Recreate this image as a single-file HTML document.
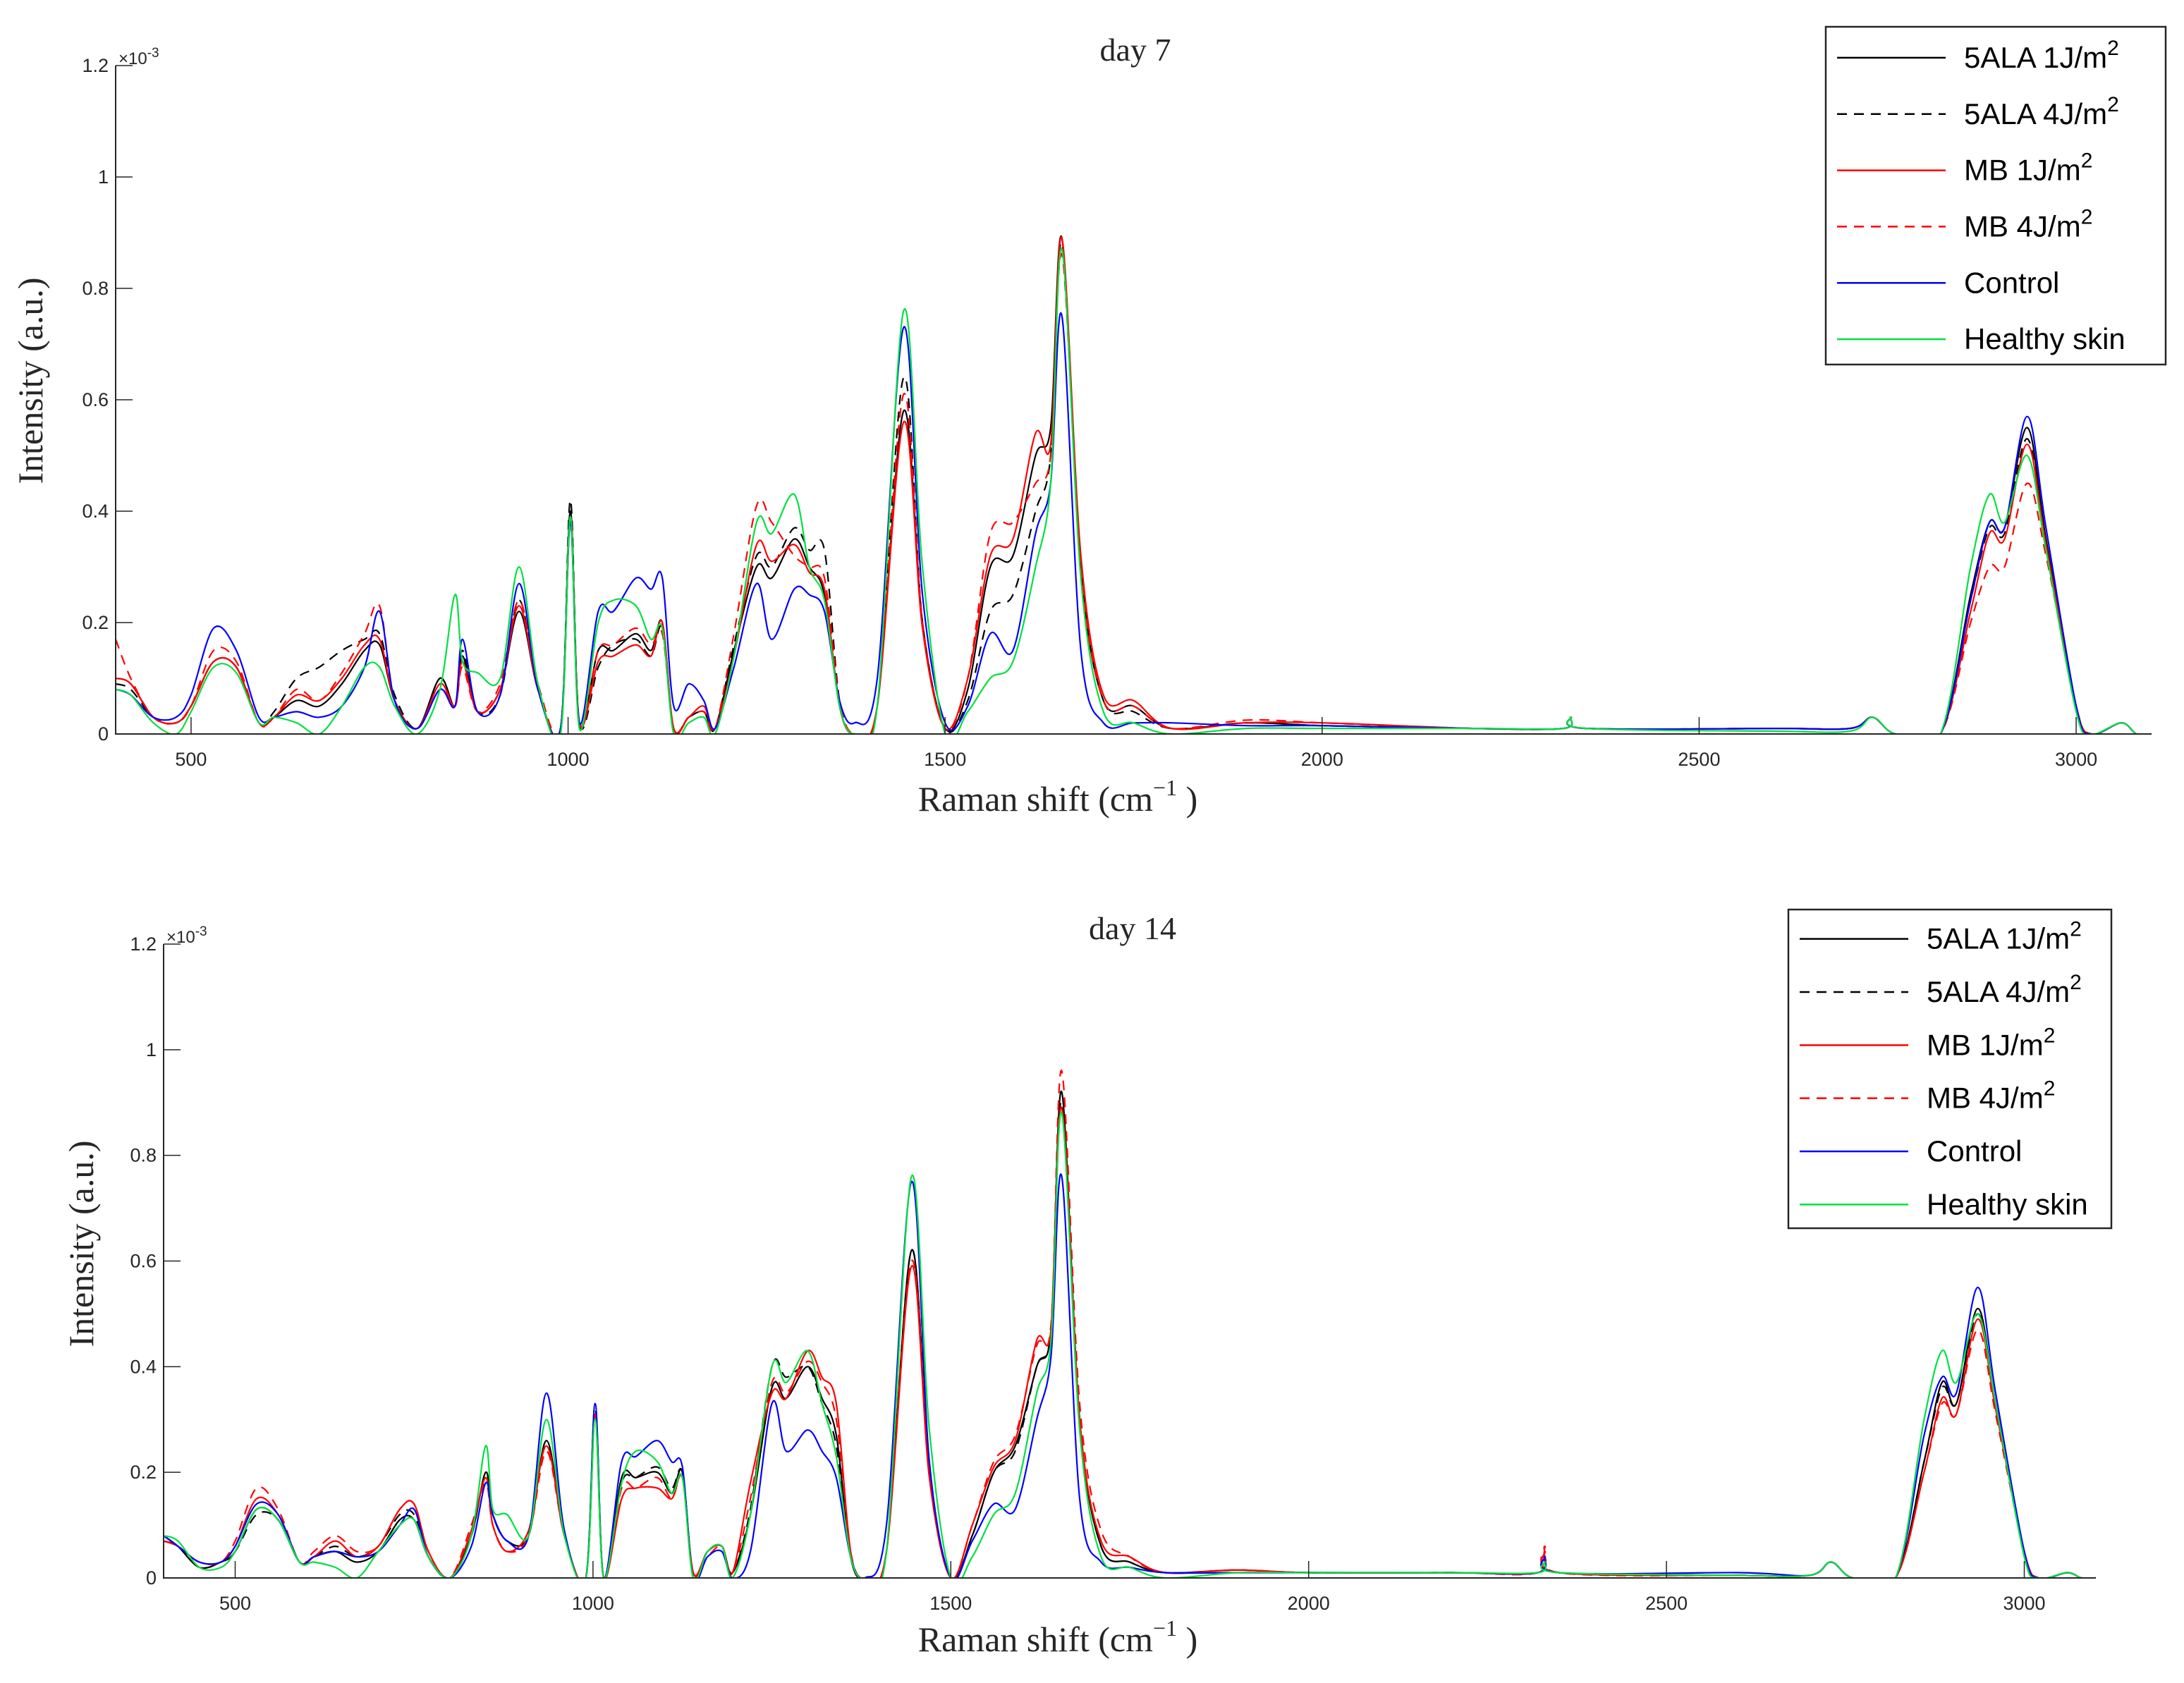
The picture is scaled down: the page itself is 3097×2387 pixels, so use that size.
<!DOCTYPE html>
<html><head><meta charset="utf-8"><style>
html,body{margin:0;padding:0;background:#fff;}
svg{display:block;}
</style></head><body>
<svg id="chart" width="3097" height="2387" viewBox="0 0 3097 2387" xmlns="http://www.w3.org/2000/svg"></svg>
<script>
const wavenumbers=[400,420,450,480,500,530,560,590,610,640,670,700,730,750,770,800,830,850,860,880,910,935,960,990,1003,1015,1040,1060,1090,1110,1125,1140,1160,1180,1195,1220,1250,1270,1300,1320,1340,1360,1380,1410,1445,1470,1500,1530,1560,1590,1620,1640,1655,1680,1710,1750,1800,1900,2000,2200,2320,2330,2350,2600,2700,2730,2760,2820,2860,2885,2905,2935,2960,3000,3020,3060,3080,3100];
const xTicks=[500,1000,1500,2000,2500,3000];
const yTicks=[0,0.2,0.4,0.6,0.8,1,1.2];
const yTickLabels=["0","0.2","0.4","0.6","0.8","1","1.2"];
const seriesNames=["5ALA 1J/m","5ALA 4J/m","MB 1J/m","MB 4J/m","Control","Healthy skin"];
const d7_5ala1=[0.10,0.09,0.03,0.02,0.05,0.13,0.12,0.02,0.03,0.06,0.05,0.09,0.15,0.16,0.06,0.01,0.10,0.05,0.14,0.04,0.08,0.22,0.08,0.01,0.40,0.02,0.15,0.15,0.18,0.15,0.20,0.01,0.03,0.04,0.01,0.15,0.30,0.28,0.35,0.30,0.25,0.05,0.00,0.05,0.58,0.20,0.01,0.08,0.30,0.32,0.50,0.55,0.89,0.30,0.06,0.05,0.01,0.02,0.015,0.01,0.01,0.03,0.01,0.01,0.01,0.03,0.00,0.00,0.25,0.38,0.37,0.55,0.35,0.05,0.00,0.02,0.00,0.00];
const d7_5ala4=[0.09,0.08,0.03,0.02,0.05,0.13,0.12,0.02,0.04,0.10,0.12,0.15,0.17,0.18,0.07,0.01,0.10,0.05,0.15,0.04,0.07,0.24,0.08,0.01,0.42,0.02,0.12,0.16,0.17,0.14,0.19,0.01,0.03,0.04,0.01,0.16,0.32,0.30,0.37,0.33,0.33,0.06,0.00,0.05,0.64,0.20,0.01,0.06,0.22,0.25,0.40,0.50,0.88,0.30,0.06,0.04,0.01,0.02,0.015,0.01,0.01,0.03,0.01,0.01,0.01,0.03,0.00,0.00,0.24,0.37,0.36,0.53,0.34,0.05,0.00,0.02,0.00,0.00];
const d7_mb1=[0.10,0.09,0.03,0.02,0.05,0.13,0.12,0.02,0.03,0.07,0.06,0.10,0.16,0.17,0.06,0.01,0.09,0.05,0.13,0.04,0.08,0.23,0.08,0.01,0.39,0.02,0.13,0.14,0.16,0.14,0.20,0.01,0.03,0.05,0.01,0.14,0.34,0.31,0.34,0.29,0.26,0.05,0.00,0.05,0.56,0.19,0.01,0.10,0.32,0.35,0.54,0.52,0.89,0.32,0.07,0.06,0.01,0.02,0.02,0.01,0.01,0.03,0.01,0.01,0.01,0.03,0.00,0.00,0.22,0.36,0.35,0.52,0.34,0.05,0.00,0.02,0.00,0.00];
const d7_mb4=[0.17,0.10,0.03,0.02,0.05,0.15,0.13,0.02,0.03,0.08,0.06,0.11,0.18,0.23,0.06,0.01,0.08,0.05,0.12,0.04,0.09,0.24,0.09,0.01,0.38,0.02,0.15,0.16,0.19,0.16,0.18,0.01,0.03,0.04,0.01,0.18,0.41,0.38,0.32,0.30,0.28,0.06,0.00,0.05,0.61,0.20,0.01,0.10,0.36,0.38,0.45,0.50,0.86,0.30,0.06,0.05,0.01,0.025,0.02,0.01,0.01,0.03,0.01,0.01,0.01,0.03,0.00,0.00,0.20,0.30,0.30,0.45,0.32,0.05,0.00,0.02,0.00,0.00];
const d7_control=[0.08,0.07,0.03,0.03,0.07,0.19,0.15,0.03,0.03,0.04,0.03,0.05,0.12,0.22,0.06,0.01,0.08,0.05,0.17,0.04,0.07,0.27,0.08,0.01,0.38,0.02,0.22,0.22,0.28,0.26,0.28,0.05,0.09,0.06,0.01,0.12,0.27,0.17,0.26,0.25,0.22,0.06,0.02,0.10,0.73,0.25,0.02,0.05,0.18,0.15,0.36,0.45,0.75,0.15,0.02,0.02,0.02,0.015,0.015,0.01,0.01,0.03,0.01,0.01,0.01,0.03,0.00,0.00,0.24,0.38,0.37,0.57,0.37,0.05,0.00,0.02,0.00,0.00];
const d7_healthy=[0.08,0.07,0.02,0.00,0.04,0.12,0.11,0.02,0.03,0.02,0.00,0.05,0.12,0.12,0.05,0.00,0.08,0.25,0.13,0.11,0.10,0.30,0.09,0.00,0.39,0.01,0.20,0.24,0.23,0.17,0.19,0.00,0.02,0.03,0.00,0.14,0.38,0.36,0.43,0.30,0.24,0.05,0.00,0.05,0.76,0.30,0.00,0.04,0.10,0.13,0.30,0.45,0.87,0.28,0.04,0.02,0.00,0.01,0.01,0.01,0.01,0.03,0.01,0.005,0.005,0.03,0.00,0.00,0.30,0.43,0.38,0.50,0.33,0.04,0.00,0.02,0.00,0.00];
const d14_5ala1=[0.08,0.06,0.02,0.03,0.05,0.13,0.11,0.03,0.04,0.05,0.03,0.05,0.11,0.11,0.04,0.00,0.08,0.20,0.12,0.07,0.08,0.26,0.08,0.00,0.33,0.00,0.19,0.19,0.20,0.16,0.20,0.01,0.05,0.06,0.01,0.12,0.36,0.34,0.40,0.34,0.27,0.04,0.00,0.05,0.62,0.20,0.00,0.08,0.20,0.25,0.40,0.47,0.92,0.30,0.06,0.03,0.01,0.015,0.01,0.01,0.01,0.04,0.01,0.005,0.005,0.03,0.00,0.00,0.22,0.37,0.33,0.51,0.33,0.05,0.00,0.01,0.00,0.00];
const d14_5ala4=[0.07,0.06,0.02,0.03,0.05,0.12,0.11,0.03,0.04,0.06,0.04,0.06,0.12,0.12,0.04,0.00,0.08,0.20,0.12,0.07,0.08,0.26,0.08,0.00,0.32,0.00,0.18,0.19,0.21,0.17,0.20,0.01,0.05,0.06,0.01,0.13,0.40,0.38,0.40,0.33,0.25,0.04,0.00,0.05,0.62,0.20,0.00,0.08,0.20,0.24,0.40,0.47,0.90,0.30,0.06,0.03,0.01,0.015,0.01,0.01,0.01,0.04,0.01,0.005,0.005,0.03,0.00,0.00,0.22,0.36,0.33,0.50,0.33,0.05,0.00,0.01,0.00,0.00];
const d14_mb1=[0.07,0.06,0.03,0.03,0.06,0.15,0.12,0.03,0.04,0.07,0.04,0.06,0.13,0.14,0.05,0.00,0.09,0.19,0.10,0.05,0.09,0.25,0.08,0.00,0.30,0.00,0.15,0.17,0.17,0.15,0.19,0.01,0.05,0.06,0.01,0.18,0.35,0.34,0.43,0.38,0.33,0.05,0.00,0.05,0.59,0.19,0.00,0.10,0.21,0.26,0.45,0.47,0.89,0.30,0.07,0.04,0.01,0.015,0.01,0.01,0.01,0.05,0.01,0.005,0.005,0.03,0.00,0.00,0.20,0.34,0.31,0.49,0.32,0.05,0.00,0.01,0.00,0.00];
const d14_mb4=[0.07,0.06,0.03,0.03,0.07,0.17,0.13,0.03,0.05,0.08,0.05,0.06,0.13,0.14,0.05,0.00,0.10,0.18,0.10,0.05,0.08,0.24,0.08,0.00,0.31,0.00,0.17,0.17,0.19,0.15,0.19,0.01,0.04,0.06,0.01,0.15,0.37,0.35,0.41,0.37,0.30,0.05,0.00,0.05,0.60,0.20,0.00,0.10,0.22,0.27,0.44,0.48,0.96,0.33,0.09,0.04,0.01,0.015,0.01,0.01,0.01,0.06,0.01,0.005,0.005,0.03,0.00,0.00,0.20,0.33,0.31,0.47,0.31,0.05,0.00,0.01,0.00,0.00];
const d14_control=[0.08,0.06,0.03,0.03,0.06,0.14,0.12,0.03,0.04,0.05,0.04,0.05,0.10,0.13,0.04,0.00,0.06,0.18,0.12,0.07,0.08,0.35,0.09,0.00,0.33,0.00,0.22,0.23,0.26,0.22,0.21,0.00,0.04,0.05,0.00,0.05,0.33,0.24,0.28,0.24,0.19,0.04,0.00,0.10,0.75,0.22,0.00,0.07,0.14,0.13,0.30,0.42,0.76,0.15,0.03,0.02,0.01,0.01,0.01,0.01,0.01,0.04,0.01,0.01,0.005,0.03,0.00,0.00,0.27,0.38,0.35,0.55,0.35,0.05,0.00,0.01,0.00,0.00];
const d14_healthy=[0.08,0.07,0.02,0.02,0.05,0.13,0.11,0.03,0.03,0.02,0.00,0.05,0.10,0.11,0.04,0.00,0.08,0.25,0.13,0.12,0.08,0.30,0.08,0.00,0.30,0.00,0.18,0.24,0.22,0.16,0.19,0.00,0.05,0.06,0.00,0.12,0.40,0.37,0.43,0.33,0.23,0.04,0.00,0.05,0.76,0.28,0.00,0.04,0.12,0.16,0.35,0.45,0.88,0.28,0.04,0.02,0.00,0.01,0.01,0.01,0.01,0.03,0.01,0.005,0.005,0.03,0.00,0.00,0.30,0.43,0.37,0.50,0.33,0.04,0.00,0.01,0.00,0.00];

const NS="http://www.w3.org/2000/svg";
const svg=document.getElementById('chart');
const styles=[{c:"#000",d:null},{c:"#000",d:"14 10"},{c:"#ff0000",d:null},{c:"#ff0000",d:"14 10"},{c:"#0000ff",d:null},{c:"#00e040",d:null}];
const slugs=["5ala-1j","5ala-4j","mb-1j","mb-4j","control","healthy-skin"];
function mk(tag,attrs,parent){const e=document.createElementNS(NS,tag);for(const k in attrs)e.setAttribute(k,attrs[k]);(parent||svg).appendChild(e);return e;}

function panel(cfg,seriesList){
  const g=mk('g',{});
  
  
  const xS=v=>cfg.x0+(v-400)*(cfg.x1-cfg.x0)/2700;
  const yS=v=>cfg.y0-v*(cfg.y0-cfg.y1)/1.2;
  const clipId=cfg.id+'-clip';
  const cp=mk('clipPath',{id:clipId},g);
  mk('rect',{x:cfg.x0,y:cfg.y1-5,width:cfg.x1-cfg.x0,height:cfg.y0-cfg.y1+5},cp);
  // series
  seriesList.forEach((vals,si)=>{
    const pts=wavenumbers.map((w,i)=>[xS(w),yS(vals[i])]);
    let d="M"+pts[0][0].toFixed(1)+","+pts[0][1].toFixed(1);
    for(let i=0;i<pts.length-1;i++){
      const p0=pts[Math.max(0,i-1)],p1=pts[i],p2=pts[i+1],p3=pts[Math.min(pts.length-1,i+2)];
      const c1x=p1[0]+(p2[0]-p0[0])/6,c1y=p1[1]+(p2[1]-p0[1])/6;
      const c2x=p2[0]-(p3[0]-p1[0])/6,c2y=p2[1]-(p3[1]-p1[1])/6;
      d+=" C"+c1x.toFixed(1)+","+c1y.toFixed(1)+" "+c2x.toFixed(1)+","+c2y.toFixed(1)+" "+p2[0].toFixed(1)+","+p2[1].toFixed(1);
    }
    const p=mk('path',{d:d,fill:"none",stroke:styles[si].c,"stroke-width":2.2,"clip-path":"url(#"+clipId+")"},g);
    if(styles[si].d)p.setAttribute('stroke-dasharray',styles[si].d);
    
    
  });
  // axes
  const ax=mk('path',{d:`M${cfg.x0},${cfg.y1} L${cfg.x0},${cfg.y0} L${cfg.x1},${cfg.y0}`,fill:"none",stroke:"#262626","stroke-width":2},g);
  
  
  xTicks.forEach(t=>{
    const x=xS(t);
    mk('line',{x1:x,y1:cfg.y0,x2:x,y2:cfg.y0-24,stroke:"#262626","stroke-width":1.5},g);
    const tx=mk('text',{x:x,y:cfg.y0+45,"text-anchor":"middle","font-family":"Liberation Sans, sans-serif","font-size":27,fill:"#262626"},g);
    tx.textContent=t;
    
    
  });
  yTicks.forEach((t,i)=>{
    const y=yS(t);
    mk('line',{x1:cfg.x0,y1:y,x2:cfg.x0+24,y2:y,stroke:"#262626","stroke-width":1.5},g);
    const tx=mk('text',{x:cfg.x0-10,y:y+9,"text-anchor":"end","font-family":"Liberation Sans, sans-serif","font-size":27,fill:"#262626"},g);
    tx.textContent=yTickLabels[i];
    
    
  });
  const ex=mk('text',{x:cfg.x0+4,y:cfg.y1-2,"font-family":"Liberation Sans, sans-serif","font-size":24,fill:"#262626"},g);
  ex.innerHTML='×10<tspan dy="-10" font-size="19">-3</tspan>';
  
  
  const ti=mk('text',{x:cfg.tx,y:cfg.ty,"text-anchor":"middle","font-family":"Liberation Serif, serif","font-size":46,fill:"#262626"},g);
  ti.textContent=cfg.title;
  
  
  const xl=mk('text',{x:cfg.xlx,y:cfg.xly,"text-anchor":"middle","font-family":"Liberation Serif, serif","font-size":50,fill:"#262626"},g);
  xl.innerHTML='Raman shift (cm<tspan dy="-22" font-size="32">−1</tspan><tspan dy="22"> )</tspan>';
  
  
  const yl=mk('text',{x:0,y:0,"text-anchor":"middle","font-family":"Liberation Serif, serif","font-size":50,fill:"#262626",transform:`translate(${cfg.ylx},${cfg.yly}) rotate(-90)`},g);
  yl.textContent='Intensity (a.u.)';
  
  
  // legend
  const lg=mk('g',{},g);
  
  
  mk('rect',{x:cfg.lx,y:cfg.ly,width:cfg.lw,height:cfg.lh,fill:"#fff",stroke:"#262626","stroke-width":2.5},lg);
  const rowH=cfg.lh/6;
  seriesNames.forEach((n,si)=>{
    const e=mk('g',{},lg);
    
    
    const cy=cfg.ly+rowH*(si+0.5)+4;
    const ln=mk('line',{x1:cfg.lx+16,y1:cy,x2:cfg.lx+170,y2:cy,stroke:styles[si].c,"stroke-width":2.5},e);
    if(styles[si].d)ln.setAttribute('stroke-dasharray',styles[si].d);
    const t=mk('text',{x:cfg.lx+196,y:cy+14,"font-family":"Liberation Sans, sans-serif","font-size":42,fill:"#000"},e);
    t.innerHTML=si<4?n+'<tspan dy="-18" font-size="30">2</tspan>':n;
  });
}
panel({id:"day7",x0:164,x1:3051,y0:1041,y1:93,title:"day 7",tx:1610,ty:86,xlx:1500,xly:1150,ylx:60,yly:540,lx:2589,ly:38,lw:482,lh:479},
 [d7_5ala1,d7_5ala4,d7_mb1,d7_mb4,d7_control,d7_healthy]);
panel({id:"day14",x0:232,x1:2972,y0:2238,y1:1339,title:"day 14",tx:1606,ty:1332,xlx:1500,xly:2342,ylx:132,yly:1764,lx:2536,ly:1290,lw:458,lh:452},
 [d14_5ala1,d14_5ala4,d14_mb1,d14_mb4,d14_control,d14_healthy]);
</script>
</body></html>
